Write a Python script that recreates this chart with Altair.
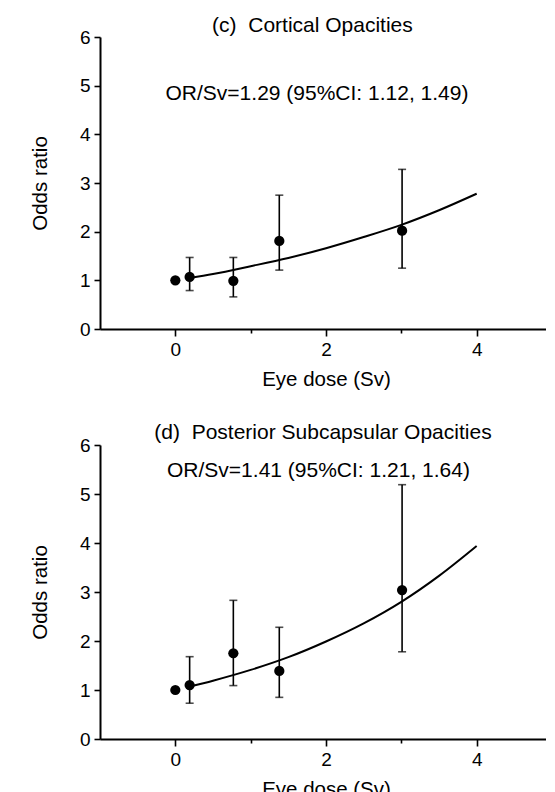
import altair as alt
import pandas as pd

FONT = "Liberation Sans"

# shared doses (Sv) of the five dose groups
doses = [0.0, 0.19, 0.77, 1.38, 3.01]

# (c) Cortical opacities
c_or = [1.00, 1.07, 0.99, 1.81, 2.02]
c_lo = [0.79, 0.66, 1.21, 1.25]
c_hi = [1.47, 1.47, 2.75, 3.28]

# (d) Posterior subcapsular opacities
d_or = [1.00, 1.10, 1.75, 1.39, 3.04]
d_lo = [0.73, 1.09, 0.85, 1.78]
d_hi = [1.68, 2.83, 2.28, 5.19]

# fitted curves
curve_dose = [0.19, 0.5, 1.0, 1.5, 2.0, 2.5, 3.0, 3.5, 4.0]
c_curve = [1.05, 1.13, 1.29, 1.46, 1.66, 1.89, 2.14, 2.44, 2.78]
d_curve = [1.07, 1.19, 1.41, 1.67, 1.99, 2.36, 2.80, 3.33, 3.94]

x_ticks = [0, 1, 2, 3, 4, 5]
y_ticks = [0, 1, 2, 3, 4, 5, 6]

c_title = "(c)\u00a0 Cortical Opacities"
d_title = "(d)\u00a0 Posterior Subcapsular Opacities"
c_note = "OR/Sv=1.29 (95%CI: 1.12, 1.49)"
d_note = "OR/Sv=1.41 (95%CI: 1.21, 1.64)"


def panel(title, tx, ty, ann, ax_, ay_, or_vals, lo, hi, curve, height):
    pts = pd.DataFrame({"dose": doses, "or": or_vals})
    eb = pd.DataFrame({"dose": doses[1:], "lo": lo, "hi": hi})
    cv = pd.DataFrame({"dose": curve_dose, "or": curve})
    an = pd.DataFrame({"dose": [ax_], "or": [ay_], "t": [ann]})
    tt = pd.DataFrame({"dose": [tx], "or": [ty], "t": [title]})

    xaxis = alt.Axis(
        values=x_ticks,
        labelExpr="datum.value % 2 == 0 ? datum.label : ''",
        title="Eye dose (Sv)",
        tickSize={"condition": {"test": "datum.value % 2 !== 0", "value": 4}, "value": 7},
        labelPadding=4,
        titlePadding=10.5,
    )
    yaxis = alt.Axis(values=y_ticks, title="Odds ratio", tickSize=6,
                     labelPadding=4, titlePadding=29)
    xs = alt.Scale(domain=[-1, 5], nice=False, zero=False)
    ys = alt.Scale(domain=[0, 6], nice=False, zero=False)
    X = alt.X("dose:Q", scale=xs, axis=xaxis)
    Y = alt.Y("or:Q", scale=ys, axis=yaxis)

    line = alt.Chart(cv).mark_line(color="black", strokeWidth=2, interpolate="monotone").encode(
        x=X, y=Y)
    bars = alt.Chart(eb).mark_errorbar(ticks=True, size=8, thickness=1.6, color="black").encode(
        x=X, y=alt.Y("lo:Q", scale=ys, axis=yaxis), y2="hi:Q")
    dots = alt.Chart(pts).mark_circle(size=105, color="black", opacity=1).encode(x=X, y=Y)
    text = alt.Chart(an).mark_text(font=FONT, fontSize=21, color="black",
                                   align="center", baseline="middle").encode(
        x=X, y=Y, text="t:N")
    head = alt.Chart(tt).mark_text(font=FONT, fontSize=21, color="black",
                                   align="center", baseline="alphabetic").encode(
        x=X, y=Y, text="t:N")

    return alt.layer(line, bars, dots, text, head).properties(width=452, height=height)


top = panel(c_title, 1.82, 6.103, c_note, 1.88, 4.83, c_or, c_lo, c_hi, c_curve, 292)
bottom = panel(d_title, 1.96, 6.116, d_note, 1.90, 5.47, d_or, d_lo, d_hi, d_curve, 294)

chart = alt.vconcat(top, bottom, spacing=32).properties(
    padding={"left": 22, "top": 6, "right": -7, "bottom": 0}
).configure_view(stroke=None).configure_axis(
    grid=False,
    domainColor="black", domainWidth=2,
    tickColor="black", tickWidth=1.6,
    labelFont=FONT, labelFontSize=19, labelColor="black",
    titleFont=FONT, titleFontSize=20.5, titleFontWeight="normal", titleColor="black",
)

chart.save("out.html", embed_options={"renderer": "svg", "actions": False})
